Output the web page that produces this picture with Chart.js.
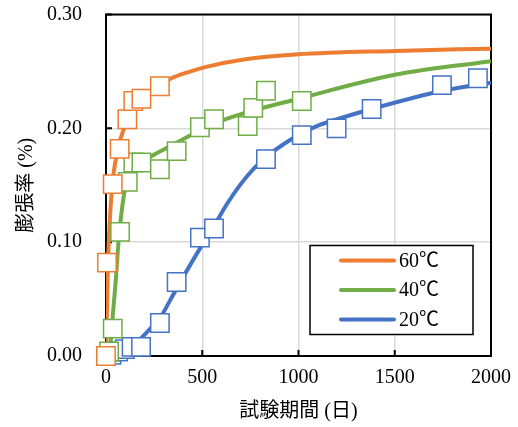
<!DOCTYPE html>
<html>
<head>
<meta charset="utf-8">
<script src="https://cdn.jsdelivr.net/npm/chart.js@4/dist/chart.umd.min.js"></script>
<style>
  html, body { margin: 0; padding: 0; background: #fff; }
</style>
</head>
<body>
<canvas id="chart" width="518" height="427"></canvas>
<script>
// 測定値（マーカー）
var days60 = [0, 5, 35, 71, 111, 142, 184, 280];
var rate60 = [0, 0.082, 0.151, 0.182, 0.208, 0.224, 0.226, 0.237];

var days40 = [0, 16, 35, 73, 113, 142, 184, 280, 367, 488, 561, 736, 765, 831, 1017];
var rate40 = [0, 0.004, 0.024, 0.109, 0.153, 0.170, 0.170, 0.164, 0.180, 0.201, 0.208, 0.202, 0.218, 0.233, 0.224];

var days20 = [0, 28, 63, 98, 133, 182, 280, 367, 488, 561, 831, 1017, 1198, 1380, 1745, 1932];
var rate20 = [0, 0.001, 0.004, 0.006, 0.008, 0.008, 0.029, 0.065, 0.104, 0.112, 0.173, 0.194, 0.200, 0.217, 0.238, 0.244];

// 近似曲線
var curveDays60 = [0, 10, 30, 60, 100, 150, 200, 280, 340, 420, 520, 700, 1000, 1500, 2000];
var curveRate60 = [0, 0.080, 0.145, 0.180, 0.203, 0.218, 0.228, 0.238, 0.244, 0.249, 0.254, 0.260, 0.265, 0.268, 0.270];

var curveDays40 = [0, 20, 30, 50, 65, 90, 110, 150, 230, 340, 440, 560, 730, 1000, 1500, 2000];
var curveRate40 = [0, 0.005, 0.025, 0.065, 0.100, 0.138, 0.154, 0.166, 0.175, 0.185, 0.194, 0.204, 0.214, 0.226, 0.247, 0.259];

var curveDays20 = [0, 50, 100, 160, 230, 290, 330, 420, 490, 560, 630, 700, 770, 840, 940, 1010, 1110, 1200, 1380, 1750, 2000];
var curveRate20 = [0, 0.001, 0.004, 0.012, 0.024, 0.036, 0.048, 0.075, 0.095, 0.114, 0.134, 0.151, 0.165, 0.176, 0.188, 0.195, 0.203, 0.208, 0.217, 0.233, 0.240];

var seriesLabels = ['60℃', '40℃', '20℃'];
var seriesColors = ['#ED7D31', '#70AD47', '#4472C4'];

var xTicks = [0, 500, 1000, 1500, 2000];
var yTicks = [0, 0.10, 0.20, 0.30];

function toPoints(xs, ys) {
    return xs.map(function(x, i) { return {x: x, y: ys[i]}; });
}

var serif = '"Liberation Serif", "Times New Roman", "Noto Sans CJK JP", serif';

function markerSet(xs, ys, color) {
    return {
        data: toPoints(xs, ys),
        order: 0,
        showLine: false,
        pointStyle: 'rect',
        pointRadius: 13,
        pointHoverRadius: 13,
        pointBackgroundColor: '#fff',
        pointBorderColor: color,
        pointBorderWidth: 1.5,
        clip: false
    };
}

function curveSet(xs, ys, color, label) {
    return {
        label: label,
        data: toPoints(xs, ys),
        order: 5,
        showLine: true,
        borderColor: color,
        backgroundColor: color,
        borderWidth: 4,
        pointRadius: 0,
        pointHoverRadius: 0,
        cubicInterpolationMode: 'monotone',
        fill: false
    };
}

// 枠線と内向きの目盛り
var framePlugin = {
    id: 'frame',
    beforeDatasetsDraw: function(chart) {
        var ctx = chart.ctx, a = chart.chartArea;
        var xs = chart.scales.x, ys = chart.scales.y;
        ctx.save();
        ctx.strokeStyle = '#000';
        ctx.lineWidth = 2;
        ctx.strokeRect(a.left, a.top, a.right - a.left, a.bottom - a.top);
        ctx.beginPath();
        xTicks.forEach(function(v) {
            var px = xs.getPixelForValue(v);
            ctx.moveTo(px, a.bottom);
            ctx.lineTo(px, a.bottom - 6);
        });
        yTicks.forEach(function(v) {
            var py = ys.getPixelForValue(v);
            ctx.moveTo(a.left, py);
            ctx.lineTo(a.left + 6, py);
        });
        ctx.stroke();
        ctx.restore();
    }
};

// 凡例（グラフ内右下）
var boxLegendPlugin = {
    id: 'boxLegend',
    afterDatasetsDraw: function(chart) {
        var ctx = chart.ctx, a = chart.chartArea;
        var left = a.right - 181, top = a.top + 231, w = 163, h = 89;
        ctx.save();
        ctx.fillStyle = '#fff';
        ctx.fillRect(left, top, w, h);
        ctx.strokeStyle = '#000';
        ctx.lineWidth = 1.5;
        ctx.strokeRect(left, top, w, h);
        ctx.font = '20px ' + serif;
        ctx.textBaseline = 'middle';
        ctx.fillStyle = '#000';
        seriesLabels.forEach(function(label, i) {
            var y = top + 15 + i * 29.5;
            ctx.strokeStyle = seriesColors[i];
            ctx.lineWidth = 4;
            ctx.lineCap = 'round';
            ctx.beginPath();
            ctx.moveTo(left + 31, y);
            ctx.lineTo(left + 84, y);
            ctx.stroke();
            ctx.fillText(label, left + 89, y + 1);
        });
        ctx.restore();
    }
};

var ctx = document.getElementById('chart').getContext('2d');
new Chart(ctx, {
    type: 'scatter',
    data: {
        datasets: [
            curveSet(curveDays60, curveRate60, seriesColors[0], seriesLabels[0]),
            curveSet(curveDays40, curveRate40, seriesColors[1], seriesLabels[1]),
            curveSet(curveDays20, curveRate20, seriesColors[2], seriesLabels[2]),
            markerSet(days60, rate60, seriesColors[0]),
            markerSet(days40, rate40, seriesColors[1]),
            markerSet(days20, rate20, seriesColors[2])
        ]
    },
    options: {
        responsive: false,
        animation: false,
        devicePixelRatio: 1,
        layout: { padding: { top: 14, right: 27, left: 0, bottom: 0 } },
        plugins: {
            legend: { display: false },
            tooltip: { enabled: false }
        },
        scales: {
            x: {
                type: 'linear',
                min: 0,
                max: 2000,
                afterFit: function(s) {
                    s.height = 71;
                    s.paddingLeft = 0;
                    s.paddingRight = 0;
                },
                afterBuildTicks: function(s) { s.ticks = xTicks.map(function(v) { return {value: v}; }); },
                ticks: {
                    color: '#000',
                    padding: 10,
                    font: { family: serif, size: 20 },
                    maxRotation: 0,
                    callback: function(v) { return String(v); }
                },
                grid: { color: '#d9d9d9', lineWidth: 1.5, drawTicks: false },
                border: { display: false },
                title: {
                    display: true,
                    text: '試験期間 (日)',
                    color: '#000',
                    font: { family: serif, size: 20 },
                    padding: { top: 0, bottom: 3 }
                }
            },
            y: {
                type: 'linear',
                min: 0,
                max: 0.3,
                afterFit: function(s) {
                    s.width = 106;
                    s.paddingTop = 0;
                    s.paddingBottom = 0;
                },
                afterBuildTicks: function(s) { s.ticks = yTicks.map(function(v) { return {value: v}; }); },
                ticks: {
                    color: '#000',
                    padding: 24,
                    font: { family: serif, size: 20 },
                    callback: function(v) { return v.toFixed(2); }
                },
                grid: { color: '#d9d9d9', lineWidth: 1.5, drawTicks: false },
                border: { display: false },
                title: {
                    display: true,
                    text: '膨張率 (%)',
                    color: '#000',
                    font: { family: serif, size: 20 },
                    padding: { top: 15, bottom: 0 }
                }
            }
        }
    },
    plugins: [framePlugin, boxLegendPlugin]
});
</script>
</body>
</html>
